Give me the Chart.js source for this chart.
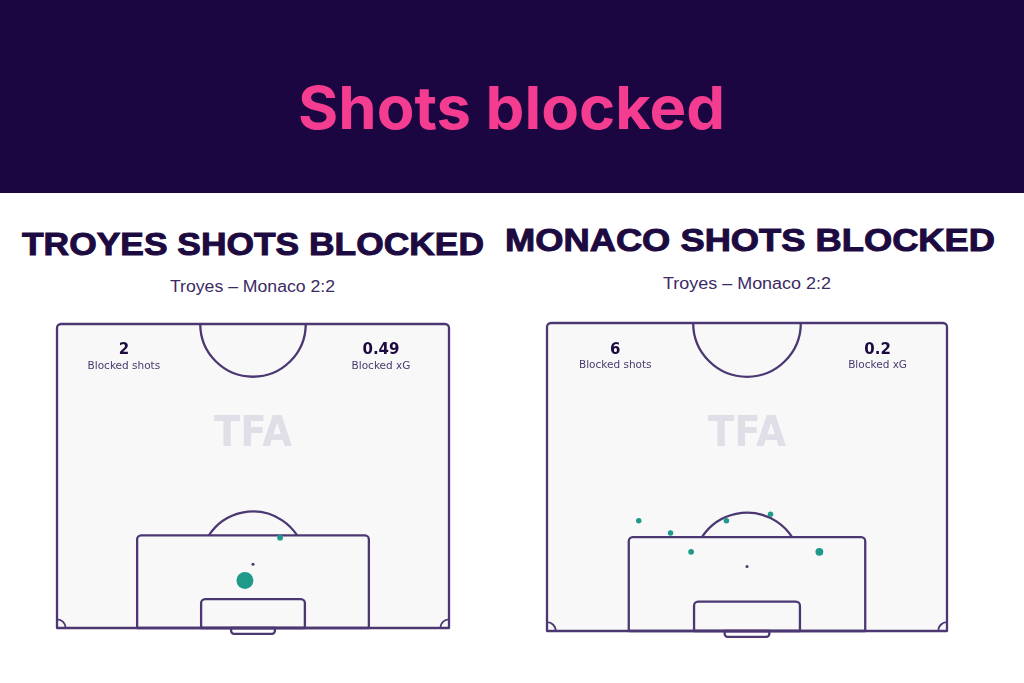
<!DOCTYPE html>
<html>
<head>
<meta charset="utf-8">
<title>Shots blocked</title>
<script src="https://cdn.jsdelivr.net/npm/chart.js@4.4.0/dist/chart.umd.min.js"></script>
<style>
  body { margin: 0; width: 1024px; height: 683px; background: #fff; position: relative; overflow: hidden; }
  .band { position: absolute; left: 0; top: 0; width: 1024px; height: 193px; background: #1b0641; }
  .txt { position: absolute; white-space: nowrap; line-height: 1; transform-origin: 0 0; display: inline-block; }
  #main { left: 298px; top: 72px; font: 700 59px Inter, sans-serif; color: #f43c91; }
  .ttl { font: 700 32px "Liberation Sans", Arial, sans-serif; color: #1c0a40; -webkit-text-stroke: 1px #1c0a40; }
  .sub { font: 400 16px "Liberation Sans", Arial, sans-serif; color: #3b2a63; }
  canvas { position: absolute; }
</style>
</head>
<body>
<div class="band"></div>
<div id="main" class="txt" data-w="427">Shots blocked</div>

<div class="txt ttl" style="left:22px; top:226px" data-w="462">TROYES SHOTS BLOCKED</div>
<div class="txt ttl" style="left:505px; top:222px" data-w="490">MONACO SHOTS BLOCKED</div>
<div class="txt sub" style="left:170px; top:278px" data-w="165">Troyes – Monaco 2:2</div>
<div class="txt sub" style="left:663px; top:275px" data-w="168">Troyes – Monaco 2:2</div>

<canvas id="troyes" width="412" height="330" style="left:47px; top:314px"></canvas>
<canvas id="monaco" width="420" height="334" style="left:537px; top:313px"></canvas>

<script>
// pitch is 68 x 105 m, only the attacking half is shown (goal line at y = 0)
// Troyes blocked shots
const troyesX = [38.7, 32.6];
const troyesY = [15.6, 8.2];
const troyesXg = [0.03, 0.46];
const troyesShots = '2';
const troyesXgTotal = '0.49';

// Monaco blocked shots
const monacoX = [15.6, 21.0, 30.5, 38.0, 24.5, 46.3];
const monacoY = [18.8, 16.7, 18.8, 19.9, 13.5, 13.5];
const monacoXg = [0.025, 0.025, 0.025, 0.025, 0.03, 0.07];
const monacoShots = '6';
const monacoXgTotal = '0.2';

// squeeze / stretch header texts to the widths in the picture
document.querySelectorAll('[data-w]').forEach(el => {
    const w = el.getBoundingClientRect().width;
    el.style.transform = `scaleX(${el.dataset.w / w})`;
});

const LINE = '#4b3772';

const pitchPlugin = {
    id: 'pitch',
    beforeDatasetsDraw(chart, args, opts) {
        const { ctx, scales: { x, y } } = chart;
        const px = v => x.getPixelForValue(v);
        const py = v => y.getPixelForValue(v);
        const m = Math.abs(px(1) - px(0));

        ctx.save();
        ctx.fillStyle = '#f8f8f9';
        ctx.fillRect(px(0), py(52.5), px(68) - px(0), py(0) - py(52.5));

        // watermark
        ctx.save();
        ctx.font = 'bold 42px "DejaVu Sans"';
        ctx.fillStyle = '#e0dee6';
        const tw = ctx.measureText('TFA').width;
        ctx.translate(px(34), py(31.5));
        ctx.scale(78 / tw, 1);
        ctx.textAlign = 'center';
        ctx.textBaseline = 'alphabetic';
        ctx.fillText('TFA', 0, 0);
        ctx.restore();

        ctx.strokeStyle = LINE;
        ctx.lineWidth = 2.3;
        ctx.lineJoin = 'round';

        // outline
        ctx.beginPath();
        ctx.roundRect(px(0), py(52.5), px(68) - px(0), py(0) - py(52.5), [4, 4, 0, 0]);
        ctx.stroke();

        // centre circle (lower half)
        ctx.beginPath();
        ctx.arc(px(34), py(52.5), 9.15 * m, 0, Math.PI);
        ctx.stroke();

        // penalty area
        ctx.beginPath();
        ctx.roundRect(px(13.9), py(16), px(54.1) - px(13.9), py(0) - py(16), [4, 4, 0, 0]);
        ctx.stroke();

        // penalty arc
        const a = Math.asin(5 / 9.15);
        ctx.beginPath();
        ctx.arc(px(34), py(11), 9.15 * m, -Math.PI + a, -a);
        ctx.stroke();

        // goal area
        ctx.beginPath();
        ctx.roundRect(px(25), py(5), px(43) - px(25), py(0) - py(5), [4, 4, 0, 0]);
        ctx.stroke();

        // goal
        ctx.beginPath();
        ctx.roundRect(px(30.2), py(0), px(37.8) - px(30.2), py(-1) - py(0), [0, 0, 3, 3]);
        ctx.stroke();

        // corner arcs
        ctx.lineWidth = 1.8;
        ctx.beginPath();
        ctx.arc(px(0), py(0), 1.5 * m, -Math.PI / 2, 0);
        ctx.stroke();
        ctx.beginPath();
        ctx.arc(px(68), py(0), 1.5 * m, Math.PI, Math.PI * 1.5);
        ctx.stroke();

        // penalty spot
        ctx.fillStyle = LINE;
        ctx.beginPath();
        ctx.arc(px(34), py(11), 1.5, 0, Math.PI * 2);
        ctx.fill();

        // stats
        ctx.textAlign = 'center';
        ctx.textBaseline = 'alphabetic';
        ctx.fillStyle = '#1c0a40';
        ctx.font = 'bold 15px "DejaVu Sans"';
        ctx.fillText(opts.shots, px(11.6), py(47.3));
        ctx.fillText(opts.xg, px(56.2), py(47.3));
        ctx.fillStyle = '#4a3a6e';
        ctx.font = '10.5px "DejaVu Sans"';
        ctx.fillText('Blocked shots', px(11.6), py(44.8));
        ctx.fillText('Blocked xG', px(56.2), py(44.8));
        ctx.restore();
    }
};

function makePitch(id, xs, ys, xgs, shots, xg, pad) {
    const pts = xs.map((v, i) => ({ x: v, y: ys[i], r: 1 + 11 * Math.sqrt(xgs[i]) }));
    new Chart(document.getElementById(id), {
        type: 'bubble',
        data: {
            datasets: [{
                data: pts,
                backgroundColor: '#1f9a8a',
                borderWidth: 0,
                clip: false
            }]
        },
        options: {
            responsive: false,
            animation: false,
            layout: { padding: pad, autoPadding: false },
            scales: {
                x: { type: 'linear', min: 0, max: 68, display: false },
                y: { type: 'linear', min: 0, max: 52.5, display: false }
            },
            plugins: {
                legend: { display: false },
                tooltip: { enabled: false },
                pitch: { shots: shots, xg: xg }
            }
        },
        plugins: [pitchPlugin]
    });
}

makePitch('troyes', troyesX, troyesY, troyesXg, troyesShots, troyesXgTotal,
    { left: 10, right: 10, top: 10, bottom: 16 });
makePitch('monaco', monacoX, monacoY, monacoXg, monacoShots, monacoXgTotal,
    { left: 10, right: 10, top: 10, bottom: 16 });
</script>
</body>
</html>
